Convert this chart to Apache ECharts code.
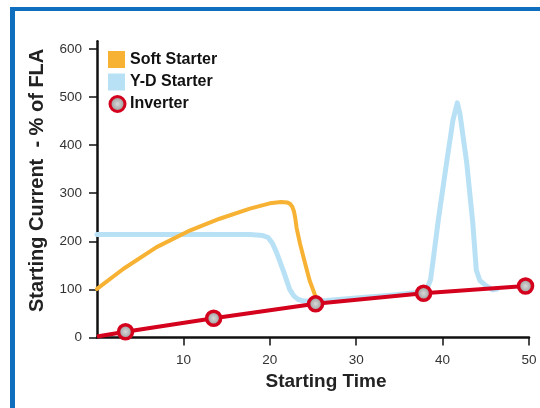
<!DOCTYPE html>
<html>
<head>
<meta charset="utf-8">
<script src="https://cdn.jsdelivr.net/npm/echarts@6/dist/echarts.min.js"></script>
<style>
  html, body { margin: 0; padding: 0; background: #ffffff; }
  #frame { position: absolute; left: 10px; top: 7px; width: 600px; height: 500px;
           border-left: 5px solid #0f6fbe; border-top: 4px solid #0f6fbe; }
  #chart { position: absolute; left: 0; top: 0; width: 540px; height: 408px; }
</style>
</head>
<body>
<div id="frame"></div>
<div id="chart"></div>
<script>
// ---- data ----
const seriesNames = ['Soft Starter', 'Y-D Starter', 'Inverter'];

const softTime  = [0, 3.07, 6.9, 10.8, 14.2, 17.7, 20, 21.3, 22.0, 22.35, 22.6, 22.8, 22.95, 23.1, 23.5, 23.9, 24.6, 25.2, 25.6];
const softValue = [101, 143, 188, 223, 247, 268, 279, 282, 281, 278, 272, 262, 248, 228, 195, 167, 119, 90, 74];

const ydTime  = [0, 17.7, 19.2, 19.8, 20.3, 20.8, 21.6, 22.3, 22.8, 23.3, 23.9, 25, 26.6, 30, 34, 37.4, 38.2, 38.6, 38.9, 39.5, 40.45, 41.2, 41.7, 42.0, 42.8, 43.5, 43.9, 44.3, 45, 45.8, 46.3];
const ydValue = [214, 214, 212, 208, 196, 176, 137, 100, 86, 79, 76, 76, 77, 82, 88, 94, 102, 120, 160, 244, 362, 452, 488, 466, 362, 237, 140, 119, 108, 99, 101];

const invTime  = [0, 3.3, 13.5, 25.3, 37.8, 49.6];
const invValue = [2, 12, 40, 70, 92, 107];

const xTicks = [10, 20, 30, 40, 50];
const yTicks = [0, 100, 200, 300, 400, 500, 600];

// ---- styles ----
const cOrange = '#f7b233';
const cBlue = '#b9e1f5';
const cRed = '#d4021d';
const markerFill = {
  type: 'radial', x: 0.5, y: 0.5, r: 0.5,
  colorStops: [{ offset: 0, color: '#d8d8d8' }, { offset: 1, color: '#8a8a8a' }]
};
const fontFam = '"Liberation Sans", Arial, Helvetica, sans-serif';
const legendText = { fontFamily: fontFam, fontSize: 16, fontWeight: 'bold', color: '#111' };

const zip = (a, b) => a.map((v, i) => [v, b[i]]);

const chart = echarts.init(document.getElementById('chart'), null, { renderer: 'canvas' });
chart.setOption({
  animation: false,
  backgroundColor: 'transparent',
  grid: { left: 97, right: 11, top: 41.3, bottom: 70.5, containLabel: false },
  legend: [
    {
      orient: 'vertical', left: 103, top: 46,
      itemWidth: 17, itemHeight: 17, itemGap: 5.5,
      textStyle: legendText,
      data: [
        { name: seriesNames[0], icon: 'rect', itemStyle: { color: cOrange, borderWidth: 0 } },
        { name: seriesNames[1], icon: 'rect', itemStyle: { color: cBlue, borderWidth: 0 } }
      ]
    },
    {
      orient: 'vertical', left: 103.5, top: 90,
      itemWidth: 15, itemHeight: 15,
      textStyle: legendText,
      data: [
        { name: seriesNames[2], icon: 'circle', itemStyle: { color: markerFill, borderColor: cRed, borderWidth: 3 } }
      ]
    }
  ],
  xAxis: {
    type: 'value', min: 0, max: 50, interval: 10,
    name: 'Starting Time', nameLocation: 'middle', nameGap: 31,
    nameTextStyle: { fontFamily: fontFam, fontSize: 19, fontWeight: 'bold', color: '#222', padding: [0, 0, 0, 26] },
    axisLine: { show: true, onZero: false, lineStyle: { color: '#111', width: 2.5 } },
    axisTick: { show: true, length: 8, lineStyle: { color: '#111', width: 1.5 }, customValues: xTicks },
    axisLabel: { fontFamily: fontFam, fontSize: 13.5, color: '#333', margin: 16, customValues: xTicks },
    splitLine: { show: false }
  },
  yAxis: {
    type: 'value', min: 0, max: 616, interval: 100,
    name: 'Starting Current  - % of FLA', nameLocation: 'middle', nameGap: 50, nameRotate: 90,
    nameTextStyle: { fontFamily: fontFam, fontSize: 20, fontWeight: 'bold', color: '#222', padding: [0, 0, 0, 18] },
    axisLine: { show: true, onZero: false, lineStyle: { color: '#111', width: 2.5 } },
    axisTick: { show: true, length: 8, lineStyle: { color: '#111', width: 1.5 }, customValues: yTicks },
    axisLabel: { fontFamily: fontFam, fontSize: 13.5, color: '#333', margin: 15, customValues: yTicks },
    splitLine: { show: false }
  },
  series: [
    {
      name: seriesNames[1], type: 'line', z: 2,
      data: zip(ydTime, ydValue), showSymbol: false, symbol: 'none',
      lineStyle: { color: cBlue, width: 5, join: 'round', cap: 'round' },
      itemStyle: { color: cBlue }
    },
    {
      name: seriesNames[0], type: 'line', z: 3,
      data: zip(softTime, softValue), showSymbol: false, symbol: 'none',
      lineStyle: { color: cOrange, width: 4, join: 'round', cap: 'round' },
      itemStyle: { color: cOrange }
    },
    {
      name: seriesNames[2], type: 'line', z: 4,
      data: invTime.map((t, i) => i === 0 ? { value: [t, invValue[i]], symbol: 'none' } : [t, invValue[i]]),
      symbol: 'circle', symbolSize: 14, showAllSymbol: true,
      lineStyle: { color: cRed, width: 4, join: 'round' },
      itemStyle: { color: markerFill, borderColor: cRed, borderWidth: 3.5 }
    }
  ]
});
</script>
</body>
</html>
